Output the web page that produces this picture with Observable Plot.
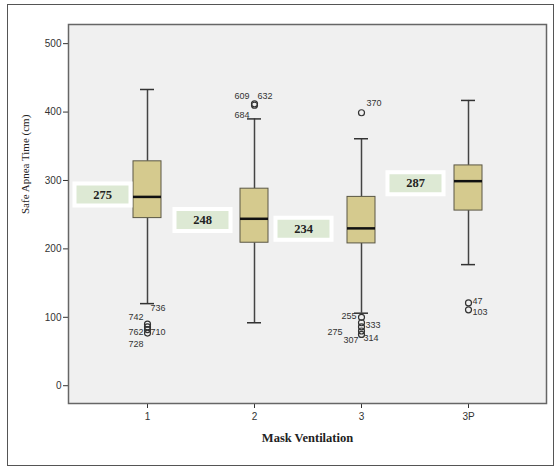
<!DOCTYPE html>
<html><head><meta charset="utf-8">
<script src="https://cdn.jsdelivr.net/npm/d3@7"></script>
<script src="https://cdn.jsdelivr.net/npm/@observablehq/plot@0.6"></script>
<style>
body{margin:0;background:#fff;}
#wrap{position:relative;width:558px;height:469px;}
#frame{position:absolute;left:7px;top:4px;width:547px;height:462px;border:1px solid #555;box-sizing:border-box;pointer-events:none;}
#chart{position:absolute;left:0;top:0;}
</style></head>
<body><div id="wrap"><div id="chart"></div><div id="frame"></div></div>
<script>
// ---- data ----
const categories   = ["1", "2", "3", "3P"];
const whiskerLow   = [120,  92, 106, 177];
const q1           = [245, 209, 208, 256];
const median       = [276, 244, 230, 299];
const q3           = [328, 288, 276, 322];
const whiskerHigh  = [433, 390, 361, 417];
const means        = [275, 248, 234, 287];

const outlierCategory = ["1","1","1","1","2","2","3","3","3","3","3","3","3P","3P"];
const outlierValue    = [ 90, 86, 82, 77,412,410,399,100, 92, 86, 80, 75,121,111];

const outlierLabelCategory = ["1","1","1","1","1","2","2","2","3","3","3","3","3","3","3P","3P"];
const outlierLabelValue    = [113,101, 79, 79, 61,424,424,396,413,102, 89, 79, 67, 69,123,107];
const outlierLabelText     = ["736","742","762","710","728","609","632","684","370","255","333","275","307","314","47","103"];

const yTicks = [0, 100, 200, 300, 400, 500];
const xTitle = "Mask Ventilation";
const yTitle = "Safe Apnea Time (cm)";

// ---- layout (not data) ----
const outlierLabelDx = [3,-4,-4,3,-4,-5,3,-5,5,-5,4,-19,-3,2,4,4];
const meanLabelDx = [-45,-52,-58,-53];
const meanLabelDy = [-3,4,3,-6];

const boxes = categories.map((c, i) => ({cat: c, low: whiskerLow[i], q1: q1[i], med: median[i], q3: q3[i], high: whiskerHigh[i], mean: means[i]}));
const outliers = outlierCategory.map((c, i) => ({cat: c, v: outlierValue[i]}));
const labels = outlierLabelText.map((t, i) => ({cat: outlierLabelCategory[i], v: outlierLabelValue[i], t, dx: outlierLabelDx[i]}));

const rectSymbol = {draw(ctx) { ctx.rect(-28, -11, 56, 22); }};
const sans = "'Liberation Sans', Arial, sans-serif";
const serif = "'Liberation Serif', 'Times New Roman', serif";

const chart = Plot.plot({
  width: 558, height: 469,
  marginLeft: 68, marginRight: 12, marginTop: 24, marginBottom: 66,
  style: {fontFamily: sans, fontSize: "10px", color: "#333", background: "transparent"},
  x: {domain: categories, paddingInner: 0.74, paddingOuter: 0.583, label: null},
  y: {domain: [-26, 528], label: null},
  marks: [
    Plot.frame({fill: "#f0f0f0"}),
    Plot.axisY({ticks: yTicks, tickSize: 5, tickPadding: 2, stroke: "#333", fontSize: 10, label: null}),
    Plot.axisX({tickSize: 5, tickPadding: 4, stroke: "#333", fontSize: 10, label: null}),
    Plot.ruleX(boxes, {x: "cat", y1: "low", y2: "q1", stroke: "#444", strokeWidth: 1.5}),
    Plot.ruleX(boxes, {x: "cat", y1: "q3", y2: "high", stroke: "#444", strokeWidth: 1.5}),
    Plot.tickY(boxes, {x: "cat", y: "low", stroke: "#333", strokeWidth: 1.5, insetLeft: 7, insetRight: 7}),
    Plot.tickY(boxes, {x: "cat", y: "high", stroke: "#333", strokeWidth: 1.5, insetLeft: 7, insetRight: 7}),
    Plot.barY(boxes, {x: "cat", y1: "q1", y2: "q3", fill: "#d5ca8e", stroke: "#5a5745", strokeWidth: 1}),
    Plot.tickY(boxes, {x: "cat", y: "med", stroke: "#111", strokeWidth: 2.5}),
    Plot.dot(outliers, {x: "cat", y: "v", r: 3, stroke: "#333", strokeWidth: 1.2, fill: "none"}),
    ...labels.map(l => Plot.text([l], {x: "cat", y: "v", text: "t", dx: l.dx, textAnchor: l.dx < 0 ? "end" : "start", fill: "#333", fontSize: 9, fontFamily: sans})),
    ...boxes.map((b, i) => Plot.dot([b], {x: "cat", y: "mean", symbol: rectSymbol, fill: "#dde9d4", stroke: "white", strokeWidth: 4, dx: meanLabelDx[i], dy: meanLabelDy[i]})),
    ...boxes.map((b, i) => Plot.text([b], {x: "cat", y: "mean", text: d => String(d.mean), dx: meanLabelDx[i], dy: meanLabelDy[i], fontFamily: serif, fontWeight: "bold", fontSize: 12.5, fill: "#222"})),
    Plot.frame({stroke: "#666", strokeWidth: 1.5}),
    Plot.text([yTitle], {frameAnchor: "left", dx: -43, rotate: -90, text: d => d, fontFamily: serif, fontSize: 11, fill: "#222"}),
    Plot.text([xTitle], {frameAnchor: "bottom", dy: 38, text: d => d, fontFamily: serif, fontWeight: "bold", fontSize: 12.5, fill: "#222"})
  ]
});
document.getElementById("chart").appendChild(chart);
</script>
</body></html>
